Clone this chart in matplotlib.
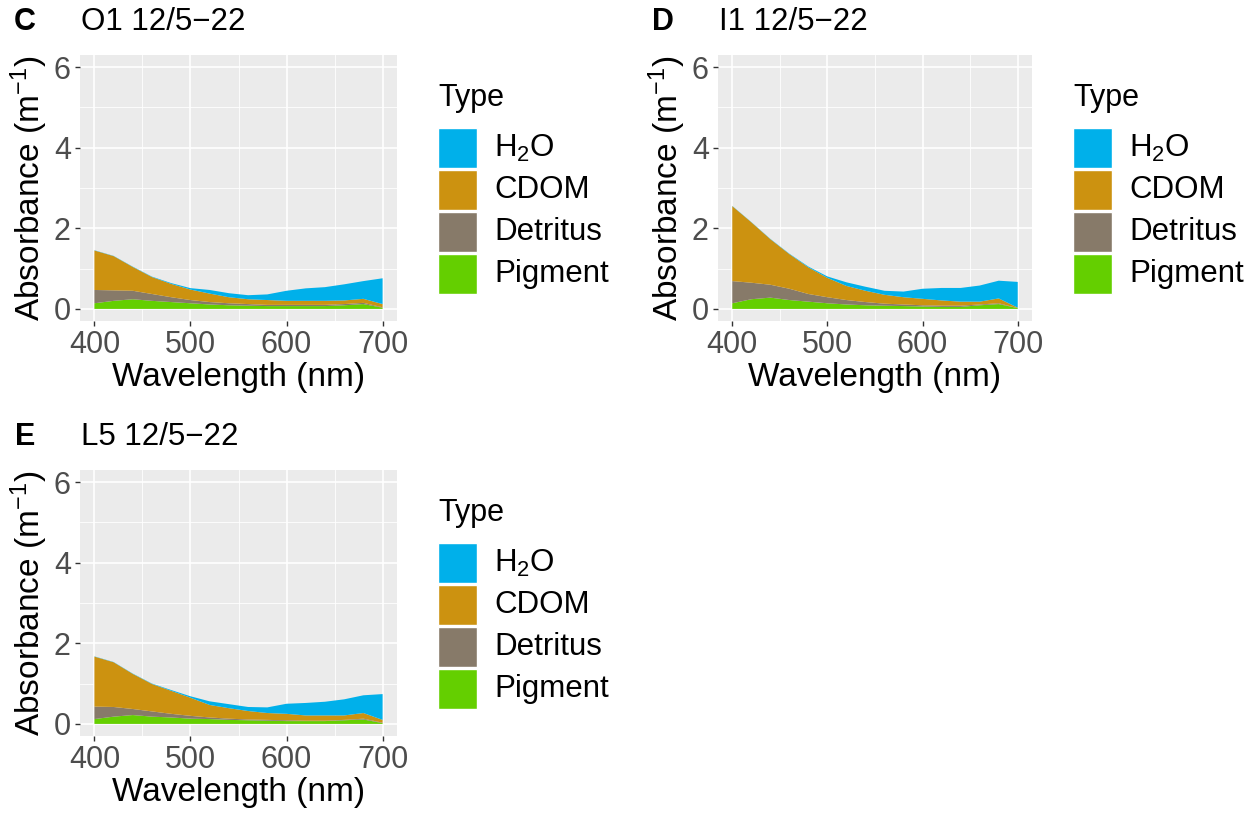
import numpy as np
import matplotlib
matplotlib.use("Agg")
import matplotlib.pyplot as plt
from matplotlib.patches import Rectangle

plt.rcParams['font.family'] = ['Liberation Sans', 'DejaVu Sans']
plt.rcParams['mathtext.fontset'] = 'custom'
plt.rcParams['mathtext.rm'] = 'Liberation Sans'
plt.rcParams['mathtext.it'] = 'Liberation Sans:italic'
plt.rcParams['mathtext.bf'] = 'Liberation Sans:bold'

# wavelength grid (nm)
wavelength = [400, 420, 440, 460, 480, 500, 520, 540, 560, 580, 600, 620, 640, 660, 680, 700]

# pure water absorption (same for all stations)
h2o = [0.006, 0.006, 0.008, 0.01, 0.02, 0.035, 0.09, 0.10, 0.10, 0.14, 0.25, 0.31, 0.34, 0.40, 0.44, 0.64]

# O1 12/5-22
c_pigment = [0.14, 0.20, 0.24, 0.20, 0.17, 0.14, 0.11, 0.09, 0.08, 0.07, 0.07, 0.07, 0.07, 0.09, 0.12, 0.03]
c_detritus = [0.33, 0.26, 0.21, 0.17, 0.12, 0.08, 0.06, 0.05, 0.04, 0.03, 0.03, 0.03, 0.03, 0.03, 0.03, 0.01]
c_cdom = [0.98, 0.85, 0.59, 0.42, 0.33, 0.26, 0.21, 0.15, 0.12, 0.12, 0.10, 0.10, 0.10, 0.09, 0.10, 0.08]

# I1 12/5-22
d_pigment = [0.14, 0.24, 0.28, 0.22, 0.18, 0.14, 0.11, 0.09, 0.08, 0.07, 0.06, 0.05, 0.05, 0.09, 0.12, 0.02]
d_detritus = [0.55, 0.41, 0.32, 0.28, 0.19, 0.15, 0.11, 0.08, 0.05, 0.04, 0.03, 0.03, 0.03, 0.02, 0.02, 0.00]
d_cdom = [1.86, 1.50, 1.13, 0.86, 0.66, 0.48, 0.35, 0.28, 0.22, 0.18, 0.16, 0.13, 0.10, 0.07, 0.12, 0.01]

# L5 12/5-22
e_pigment = [0.12, 0.18, 0.22, 0.18, 0.16, 0.13, 0.12, 0.10, 0.09, 0.08, 0.07, 0.07, 0.07, 0.09, 0.11, 0.02]
e_detritus = [0.31, 0.24, 0.15, 0.13, 0.09, 0.07, 0.04, 0.03, 0.02, 0.02, 0.02, 0.01, 0.01, 0.01, 0.02, 0.01]
e_cdom = [1.24, 1.11, 0.87, 0.68, 0.57, 0.45, 0.31, 0.26, 0.21, 0.17, 0.16, 0.13, 0.13, 0.11, 0.14, 0.07]

types = ['H$_2$O', 'CDOM', 'Detritus', 'Pigment']
colors = {'H$_2$O': '#00b0ea', 'CDOM': '#cc9210', 'Detritus': '#877a69', 'Pigment': '#64cf00'}

panels = [
    ('C', 'O1 12/5\u221222', c_pigment, c_detritus, c_cdom),
    ('D', 'I1 12/5\u221222', d_pigment, d_detritus, d_cdom),
    ('E', 'L5 12/5\u221222', e_pigment, e_detritus, e_cdom),
]

W, H = 1256, 819
fig = plt.figure(figsize=(W / 100, H / 100), dpi=100)

# panel boxes in pixels: left, top, right, bottom
boxes = [(80, 55, 397, 321), (718, 55, 1032, 321), (80, 470, 397, 736)]


def px2fig(x, y):
    return x / W, 1 - y / H


for (tag, title, pig, det, cdom), (l, t, r, b) in zip(panels, boxes):
    ax = fig.add_axes([l / W, 1 - b / H, (r - l) / W, (b - t) / H])
    ax.set_facecolor('#ebebeb')
    ax.stackplot(wavelength, pig, det, cdom, h2o,
                 colors=[colors['Pigment'], colors['Detritus'], colors['CDOM'], colors['H$_2$O']],
                 linewidth=0, zorder=3)
    ax.set_xlim(385, 715)
    ax.set_ylim(-0.3, 6.3)
    ax.set_xticks([400, 500, 600, 700])
    ax.set_xticks([450, 550, 650], minor=True)
    ax.set_yticks([0, 2, 4, 6])
    ax.set_yticks([1, 3, 5], minor=True)
    ax.grid(which='major', color='white', lw=1.2, zorder=0)
    ax.grid(which='minor', color='white', lw=0.6, zorder=0)
    ax.set_axisbelow(True)
    for s in ax.spines.values():
        s.set_visible(False)
    ax.tick_params(which='major', length=3.6, width=1, color='#333333',
                   labelsize=22, labelcolor='#4d4d4d', pad=3)
    ax.tick_params(which='minor', length=0)
    ax.set_xlabel('Wavelength (nm)', fontsize=24, labelpad=1)
    ax.set_ylabel('Absorbance (m$^{-1}$)', fontsize=24, labelpad=3)

    # tag and title
    fx, fy = px2fig(l - 55, t - 33)
    fig.text(fx, fy, tag, fontsize=22, fontweight='bold', va='center', ha='center')
    fx, fy = px2fig(l + 1, t - 33)
    fig.text(fx, fy, title, fontsize=22.5, va='center', ha='left')

    # legend
    lx = r + 41
    fx, fy = px2fig(lx, t + 43)
    fig.text(fx, fy, 'Type', fontsize=22, va='center', ha='left')
    for i, name in enumerate(types):
        ky = t + 73 + i * 42
        x0, y0 = px2fig(lx, ky + 40)
        fig.patches.append(Rectangle((x0, y0), 39 / W, 40 / H, transform=fig.transFigure,
                                     facecolor=colors[name], edgecolor='white', lw=1))
        fx, fy = px2fig(lx + 56, ky + 20)
        fig.text(fx, fy, name, fontsize=22.5, va='center', ha='left')

fig.savefig('out.png', dpi=100)
